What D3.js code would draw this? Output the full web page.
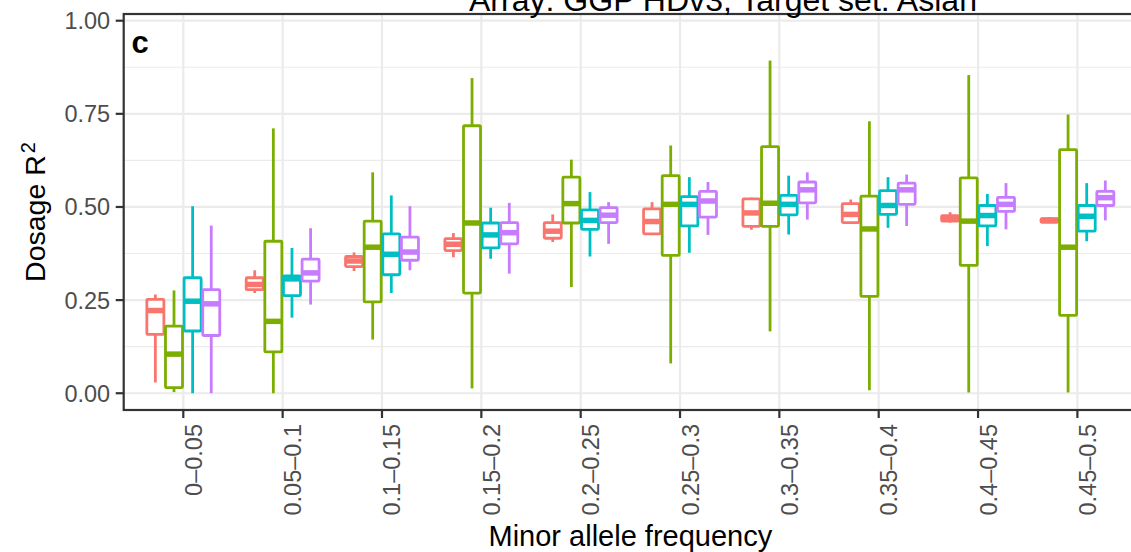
<!DOCTYPE html>
<html>
<head>
<meta charset="utf-8">
<script src="https://cdn.jsdelivr.net/npm/d3@7"></script>
<style>
  body { margin: 0; background: #fff; }
  svg { display: block; font-family: "Liberation Sans", Arial, sans-serif; }
</style>
</head>
<body>
<script>
var width = 1131;
var height = 552;

var categories = ['0\u20130.05', '0.05\u20130.1', '0.1\u20130.15', '0.15\u20130.2', '0.2\u20130.25',
                  '0.25\u20130.3', '0.3\u20130.35', '0.35\u20130.4', '0.4\u20130.45', '0.45\u20130.5'];

// each entry: [lower whisker, q1, median, q3, upper whisker]
var seriesA = [
  [0.029, 0.158, 0.222, 0.252, 0.265], [0.269, 0.278, 0.292, 0.310, 0.330],
  [0.328, 0.340, 0.355, 0.367, 0.378], [0.365, 0.383, 0.400, 0.415, 0.430],
  [0.406, 0.416, 0.435, 0.458, 0.480], [0.425, 0.428, 0.461, 0.495, 0.513],
  [0.439, 0.448, 0.484, 0.522, 0.525], [0.455, 0.458, 0.480, 0.509, 0.520],
  [0.458, 0.462, 0.470, 0.477, 0.486], [0.459, 0.459, 0.465, 0.468, 0.473]
];
var seriesB = [
  [0.003, 0.015, 0.105, 0.180, 0.276], [0.000, 0.111, 0.193, 0.408, 0.711],
  [0.144, 0.245, 0.392, 0.462, 0.593], [0.013, 0.269, 0.457, 0.718, 0.846],
  [0.285, 0.457, 0.509, 0.580, 0.627], [0.080, 0.370, 0.507, 0.584, 0.665],
  [0.166, 0.448, 0.510, 0.662, 0.893], [0.008, 0.260, 0.441, 0.529, 0.730],
  [0.002, 0.343, 0.462, 0.578, 0.854], [0.002, 0.209, 0.392, 0.654, 0.748]
];
var seriesC = [
  [0.000, 0.167, 0.247, 0.310, 0.502], [0.203, 0.262, 0.307, 0.315, 0.390],
  [0.269, 0.318, 0.373, 0.428, 0.531], [0.361, 0.390, 0.425, 0.457, 0.498],
  [0.367, 0.440, 0.464, 0.492, 0.540], [0.377, 0.449, 0.507, 0.528, 0.580],
  [0.426, 0.479, 0.507, 0.531, 0.584], [0.444, 0.480, 0.504, 0.544, 0.580],
  [0.395, 0.449, 0.477, 0.504, 0.535], [0.408, 0.435, 0.475, 0.504, 0.564]
];
var seriesD = [
  [0.000, 0.155, 0.240, 0.278, 0.450], [0.238, 0.301, 0.323, 0.360, 0.443],
  [0.330, 0.357, 0.379, 0.419, 0.502], [0.321, 0.401, 0.431, 0.458, 0.511],
  [0.401, 0.458, 0.478, 0.498, 0.513], [0.425, 0.473, 0.516, 0.542, 0.567],
  [0.466, 0.511, 0.546, 0.567, 0.593], [0.449, 0.507, 0.546, 0.564, 0.587],
  [0.440, 0.488, 0.507, 0.526, 0.564], [0.464, 0.504, 0.525, 0.542, 0.571]
];
var allSeries = [seriesA, seriesB, seriesC, seriesD];
var colors = ['#F8766D', '#7CAE00', '#00BFC4', '#C77CFF'];

var yTicks = [0, 0.25, 0.5, 0.75, 1];
var yMinorTicks = [0.125, 0.375, 0.625, 0.875];

var titleText = 'Array: GGP HDv3, Target set: Asian';
var panelTag = 'c';
var xTitle = 'Minor allele frequency';

var panel = {left: 123.7, right: 1137, top: 14, bottom: 410};

var svg = d3.select('body').append('svg')
            .attr('width', width)
            .attr('height', height);

var x = d3.scalePoint()
          .domain(categories)
          .range([panel.left, panel.right])
          .padding(0.6);
var y = d3.scaleLinear()
          .domain([-0.045, 1.018])
          .range([panel.bottom, panel.top]);

var boxW = 0.75 * x.step() / allSeries.length;

// gridlines
var gridG = svg.append('g');
gridG.selectAll('.minorY').data(yMinorTicks).enter().append('line')
     .attr('x1', panel.left).attr('x2', panel.right)
     .attr('y1', d => y(d)).attr('y2', d => y(d))
     .style('stroke', '#EBEBEB').style('stroke-width', 1.1);
gridG.selectAll('.majorY').data(yTicks).enter().append('line')
     .attr('x1', panel.left).attr('x2', panel.right)
     .attr('y1', d => y(d)).attr('y2', d => y(d))
     .style('stroke', '#EBEBEB').style('stroke-width', 2.2);
gridG.selectAll('.majorX').data(categories).enter().append('line')
     .attr('x1', d => x(d)).attr('x2', d => x(d))
     .attr('y1', panel.top).attr('y2', panel.bottom)
     .style('stroke', '#EBEBEB').style('stroke-width', 2.2);

// boxes
var boxesG = svg.append('g');
categories.forEach(function(cat, ci) {
  allSeries.forEach(function(series, si) {
    var s = series[ci];
    var cx = x(cat) + (si - (allSeries.length - 1) / 2) * boxW;
    var col = colors[si];
    var g = boxesG.append('g');
    g.append('line')
     .attr('x1', cx).attr('x2', cx)
     .attr('y1', y(s[4])).attr('y2', y(s[3]))
     .style('stroke', col).style('stroke-width', 2.8);
    g.append('line')
     .attr('x1', cx).attr('x2', cx)
     .attr('y1', y(s[1])).attr('y2', y(s[0]))
     .style('stroke', col).style('stroke-width', 2.8);
    g.append('rect')
     .attr('x', cx - boxW / 2 + 0.8)
     .attr('width', boxW - 1.6)
     .attr('y', y(s[3]))
     .attr('height', Math.max(0.5, y(s[1]) - y(s[3])))
     .attr('rx', 1)
     .style('fill', '#fff')
     .style('stroke', col).style('stroke-width', 2.8);
    g.append('line')
     .attr('x1', cx - boxW / 2 + 0.8).attr('x2', cx + boxW / 2 - 0.8)
     .attr('y1', y(s[2])).attr('y2', y(s[2]))
     .style('stroke', col).style('stroke-width', 5.5);
  });
});

// panel border
svg.append('rect')
   .attr('x', panel.left).attr('y', panel.top)
   .attr('width', panel.right - panel.left)
   .attr('height', panel.bottom - panel.top)
   .style('fill', 'none')
   .style('stroke', '#333333').style('stroke-width', 2.2);

// y axis
var yAxisG = svg.append('g');
yAxisG.selectAll('.ytick').data(yTicks).enter().append('line')
      .attr('x1', panel.left - 8).attr('x2', panel.left)
      .attr('y1', d => y(d)).attr('y2', d => y(d))
      .style('stroke', '#333333').style('stroke-width', 2.2);
yAxisG.selectAll('.ylab').data(yTicks).enter().append('text')
      .attr('x', panel.left - 13.5)
      .attr('y', d => y(d))
      .attr('dy', '0.36em')
      .attr('text-anchor', 'end')
      .style('font-size', '23.5px')
      .style('fill', '#4D4D4D')
      .text(d => d3.format('.2f')(d));

// x axis
var xAxisG = svg.append('g');
xAxisG.selectAll('.xtick').data(categories).enter().append('line')
      .attr('x1', d => x(d)).attr('x2', d => x(d))
      .attr('y1', panel.bottom).attr('y2', panel.bottom + 8)
      .style('stroke', '#333333').style('stroke-width', 2.2);
xAxisG.selectAll('.xlab').data(categories).enter().append('text')
      .attr('transform', d => 'translate(' + (x(d) + 18.5) + ',' + (panel.bottom + 14) + ') rotate(-90)')
      .attr('text-anchor', 'end')
      .style('font-size', '23.5px')
      .style('fill', '#4D4D4D')
      .text(d => d);

// titles
svg.append('text')
   .attr('x', (panel.left + panel.right) / 2)
   .attr('y', 546)
   .attr('text-anchor', 'middle')
   .style('font-size', '29px')
   .style('fill', '#000')
   .text(xTitle);

var yTitle = svg.append('text')
   .attr('transform', 'translate(45,' + ((panel.top + panel.bottom) / 2) + ') rotate(-90)')
   .attr('text-anchor', 'middle')
   .style('font-size', '28.5px')
   .style('fill', '#000');
yTitle.append('tspan').text('Dosage R');
yTitle.append('tspan')
      .attr('dx', 2)
      .attr('dy', '-0.5em')
      .style('font-size', '20px')
      .text('2');

svg.append('text')
   .attr('x', 469)
   .attr('y', 10.5)
   .attr('textLength', 508)
   .attr('lengthAdjust', 'spacingAndGlyphs')
   .style('font-size', '31px')
   .style('fill', '#000')
   .text(titleText);

svg.append('text')
   .attr('x', 131.5)
   .attr('y', 53)
   .style('font-size', '31px')
   .style('font-weight', 'bold')
   .style('fill', '#000')
   .text(panelTag);
</script>
</body>
</html>
